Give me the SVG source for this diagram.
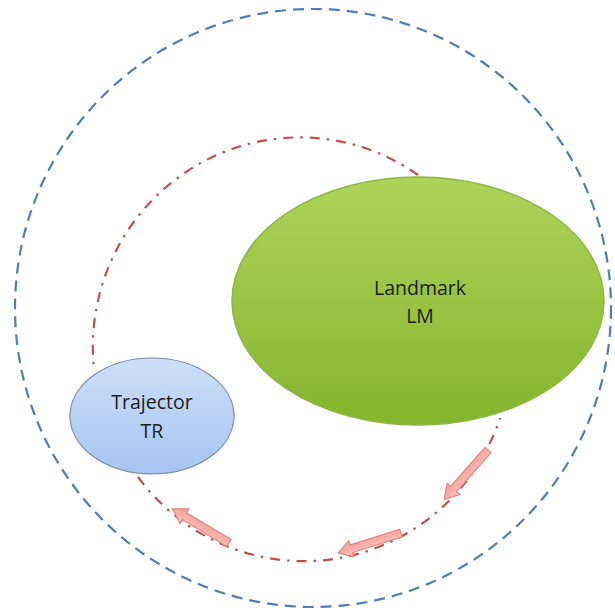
<svg xmlns="http://www.w3.org/2000/svg" width="615" height="613" viewBox="0 0 615 613">
  <defs>
    <linearGradient id="gGreen" x1="0" y1="0" x2="0" y2="1">
      <stop offset="0" stop-color="#aed35a"/>
      <stop offset="1" stop-color="#84b52c"/>
    </linearGradient>
    <linearGradient id="gBlue" x1="0" y1="0" x2="0" y2="1">
      <stop offset="0" stop-color="#cddff7"/>
      <stop offset="1" stop-color="#a6c4f2"/>
    </linearGradient>
    <linearGradient id="gPink" x1="0" y1="0" x2="0" y2="1">
      <stop offset="0" stop-color="#fbc4c0"/>
      <stop offset="1" stop-color="#f29a96"/>
    </linearGradient>
    <path id="blockArrow" d="M0,-4 L52,-4 L52,-8.5 L66,0 L52,8.5 L52,4 L0,4 Z"/>
  </defs>
  <style>
    .scope { fill: none; stroke: #4f7db5; stroke-width: 2.2; stroke-dasharray: 11 7; }
    .orbit { fill: none; stroke: #c0504d; stroke-width: 2.2; stroke-dasharray: 10 7 2.5 7; }
    .arrow { fill: url(#gPink); stroke: #e08682; stroke-width: 1.2; }
    .label { font-family: "Open Sans", "Liberation Sans", sans-serif; font-size: 19.5px; fill: #1c1f18; text-anchor: middle; }
  </style>
  <rect width="615" height="613" fill="#ffffff"/>

  <g id="scope">
    <ellipse class="scope" cx="313" cy="308" rx="298" ry="299"/>
  </g>

  <g id="connectors">
    <path class="orbit" d="M418,175 A207,210 0 0 0 94,370"/>
    <path class="orbit" d="M138,477 A207,210 0 0 0 500,418"/>
    <use href="#blockArrow" class="arrow" transform="translate(488,450) rotate(131.5)"/>
    <use href="#blockArrow" class="arrow" transform="translate(401,533) rotate(162.4)"/>
    <use href="#blockArrow" class="arrow" transform="translate(229,543) rotate(211.1)"/>
  </g>

  <g id="landmark">
    <ellipse cx="418" cy="301" rx="186" ry="124" fill="url(#gGreen)" stroke="#8fb545" stroke-width="1.5"/>
    <text class="label" x="420" y="295" fill="#1c2a12">Landmark</text>
    <text class="label" x="420" y="323">LM</text>
  </g>

  <g id="trajector">
    <ellipse cx="152" cy="416" rx="82" ry="58" fill="url(#gBlue)" stroke="#7d8ea6" stroke-width="1.2"/>
    <text class="label" x="152" y="409">Trajector</text>
    <text class="label" x="152" y="438">TR</text>
  </g>
</svg>
